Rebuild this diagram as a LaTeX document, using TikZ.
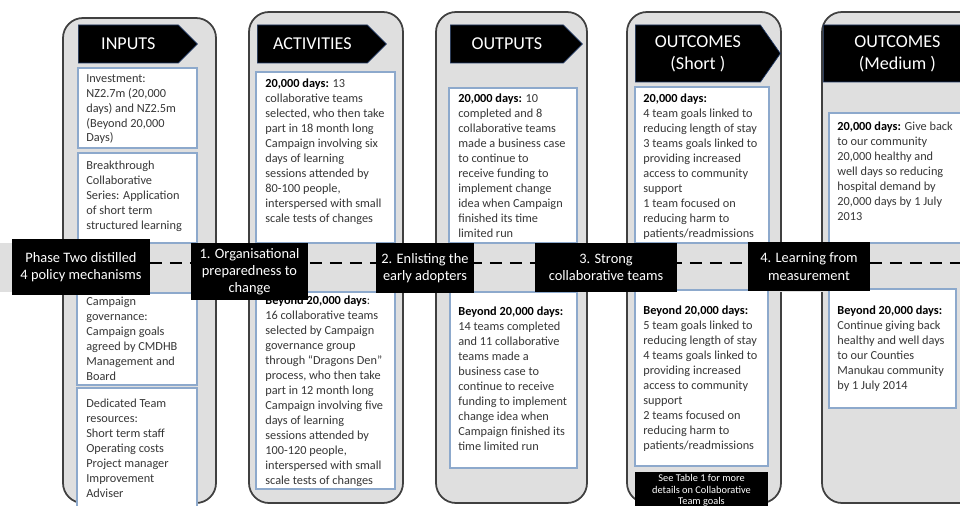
\documentclass[tikz,border=0pt]{standalone}
\usepackage{fontspec}
\setmainfont{Carlito}
\usetikzlibrary{shapes.symbols, positioning}

\definecolor{stageGray}{RGB}{223,223,223}
\definecolor{stageEdge}{RGB}{64,64,64}
\definecolor{panelEdge}{RGB}{141,169,204}
\definecolor{headEdge}{RGB}{31,56,100}
\definecolor{bodyText}{RGB}{55,55,55}

% one unit of the grid below
\newcommand{\pxu}{0.02cm}

\begin{document}
\begin{tikzpicture}[x=0.02cm, y=-0.02cm,
    stage/.style={draw=stageEdge, fill=stageGray, line width=1pt, rounded corners=0.4cm},
    stagehead/.style={signal, signal to=east, fill=black, draw=headEdge, line width=0.4pt, text=white, font=\fontsize{10.3}{12.5}\selectfont, align=center, inner sep=0pt, anchor=west, minimum height=38*\pxu},
    panel/.style={draw=panelEdge, fill=white, line width=0.6pt},
    paneltext/.style={anchor=north west, inner sep=0pt, align=left, text=bodyText, font=\fontsize{7}{8.5}\selectfont},
    mechanism/.style={fill=black, text=white, inner sep=0pt, align=center, font=\fontsize{8.2}{9.8}\selectfont},
    policy/.style={black, line width=1.7pt, dash pattern=on 0.25cm off 0.15cm}
]
\useasboundingbox (0,0) rectangle (960,506);
\clip (0,0) rectangle (960,506);

% the five stages of the logic model
\draw[stage] (63,18) rectangle (216,503);
\draw[stage] (249,12) rectangle (403,503);
\draw[stage] (436,12) rectangle (587,503);
\draw[stage] (627,12) rectangle (781,503);
\draw[stage] (822,12) rectangle (1000,503);

% band carrying the policy mechanisms
\fill[stageGray] (0,243) rectangle (960,292);

% panels above the band
\draw[panel] (78,68) rectangle (197,148);
\draw[panel] (78,153) rectangle (197,243);
\draw[panel] (256,72) rectangle (395,243);
\draw[panel] (449,88) rectangle (577,243);
\draw[panel] (635,87) rectangle (769,243);
\draw[panel] (829,113) rectangle (975,243);

% panels below the band
\draw[panel] (77,293) rectangle (197,385);
\draw[panel] (77,388) rectangle (197,515);
\draw[panel] (256,292) rectangle (395,489);
\draw[panel] (450,292) rectangle (577,468);
\draw[panel] (635,290) rectangle (768,466);
\draw[panel] (829,289) rectangle (956,408);
\fill[black] (635,472) rectangle (768,515);

% stage headings
\node[stagehead, minimum width=119*\pxu] (inputs) at (78,44) {INPUTS};
\node[stagehead, minimum width=129*\pxu] (activities) at (257,44) {ACTIVITIES};
\node[stagehead, minimum width=132*\pxu] (outputs) at (450,44) {OUTPUTS};
\node[stagehead, minimum width=145*\pxu, minimum height=57*\pxu, signal pointer angle=110] (shortterm) at (635,53.5) {OUTCOMES\\(Short )};
\node[stagehead, minimum width=168*\pxu, minimum height=57*\pxu, signal pointer angle=110] (mediumterm) at (823,53.5) {OUTCOMES\\(Medium )};

% inputs
\node[paneltext] (investment) at (86,74) {Investment:\\NZ2.7m (20,000\\days) and NZ2.5m\\(Beyond 20,000\\Days)};
\node[paneltext] (breakthrough) at (86,161) {Breakthrough\\Collaborative\\Series: Application\\of short term\\structured learning};
\node[paneltext] (governance) at (86,297) {Campaign\\governance:\\Campaign goals\\agreed by CMDHB\\Management and\\Board};
\node[paneltext] (resources) at (86,399) {Dedicated Team\\resources:\\Short term staff\\Operating costs\\Project manager\\Improvement\\Adviser};

% activities
\node[paneltext] (actFirst) at (265,79) {\textbf{\color{black}20,000 days:} 13\\collaborative teams\\selected, who then take\\part in 18 month long\\Campaign involving six\\days of learning\\sessions attended by\\80-100 people,\\interspersed with small\\scale tests of changes};
\node[paneltext] (actBeyond) at (265,296) {\textbf{\color{black}Beyond 20,000 days}:\\16 collaborative teams\\selected by Campaign\\governance group\\through “Dragons Den”\\process, who then take\\part in 12 month long\\Campaign involving five\\days of learning\\sessions attended by\\100-120 people,\\interspersed with small\\scale tests of changes};

% outputs
\node[paneltext] (outFirst) at (458,94) {\textbf{\color{black}20,000 days:} 10\\completed and 8\\collaborative teams\\made a business case\\to continue to\\receive funding to\\implement change\\idea when Campaign\\finished its time\\limited run};
\node[paneltext] (outBeyond) at (458,307) {\textbf{\color{black}Beyond 20,000 days:}\\14 teams completed\\and 11 collaborative\\teams made a\\business case to\\continue to receive\\funding to implement\\change idea when\\Campaign finished its\\time limited run};

% short term outcomes
\node[paneltext] (shortFirst) at (643,94) {\textbf{\color{black}20,000 days:}\\4 team goals linked to\\reducing length of stay\\3 teams goals linked to\\providing increased\\access to community\\support\\1 team focused on\\reducing harm to\\patients/readmissions};
\node[paneltext] (shortBeyond) at (643,306) {\textbf{\color{black}Beyond 20,000 days:}\\5 team goals linked to\\reducing length of stay\\4 teams goals linked to\\providing increased\\access to community\\support\\2 teams focused on\\reducing harm to\\patients/readmissions};
\node[anchor=north, inner sep=0pt, align=center, text=white, font=\fontsize{5.9}{6.6}\selectfont] (tableNote) at (701.5,474) {See Table 1 for more\\details on Collaborative\\Team goals};

% medium term outcomes
\node[paneltext] (mediumFirst) at (837,122) {\textbf{\color{black}20,000 days:} Give back\\to our community\\20,000 healthy and\\well days so reducing\\hospital demand by\\20,000 days by 1 July\\2013};
\node[paneltext] (mediumBeyond) at (837,306) {\textbf{\color{black}Beyond 20,000 days:}\\Continue giving back\\healthy and well days\\to our Counties\\Manukau community\\by 1 July 2014};

% dashed thread through the mechanisms
\coordinate (threadStart) at (150,263);
\coordinate (threadEnd) at (960,263);
\draw[policy] (threadStart) -- (threadEnd);

\node[mechanism, minimum width=138*\pxu, minimum height=56*\pxu] (phaseTwo) at (81,267) {Phase Two distilled\\4 policy mechanisms};
\node[mechanism, minimum width=117*\pxu, minimum height=57*\pxu] (preparedness) at (249.5,271.5) {1. Organisational\\preparedness to\\change};
\node[mechanism, minimum width=98*\pxu, minimum height=50*\pxu] (adopters) at (425,268) {2. Enlisting the\\early adopters};
\node[mechanism, minimum width=142*\pxu, minimum height=49*\pxu] (strongTeams) at (606,267.5) {3. Strong\\collaborative teams};
\node[mechanism, minimum width=122*\pxu, minimum height=49*\pxu] (measurement) at (809,266.5) {4. Learning from\\measurement};
\end{tikzpicture}
\end{document}
